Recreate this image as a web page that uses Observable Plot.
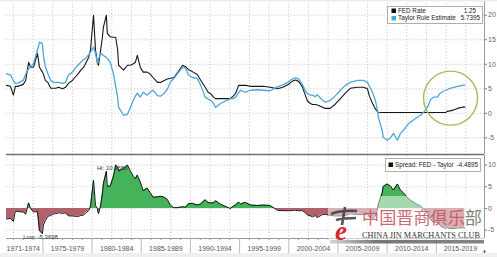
<!DOCTYPE html>
<html><head><meta charset="utf-8">
<script src="https://cdn.jsdelivr.net/npm/d3@7"></script>
<script src="https://cdn.jsdelivr.net/npm/@observablehq/plot@0.6"></script>
<style>
html,body{margin:0;padding:0;background:#fff;}
#chart{position:relative;width:497px;height:257px;overflow:hidden;background:#fff;}
#chart svg{position:absolute;left:0;}
</style></head><body><div id="chart"></div>
<script>
const years = [1971.3,1971.7,1972.0,1972.2,1972.5,1973.0,1973.25,1973.55,1973.75,1974.05,1974.45,1974.65,1974.95,1975.05,1975.25,1975.5,1975.8,1976.1,1976.3,1976.6,1977.0,1977.3,1977.6,1978.0,1978.3,1978.6,1978.85,1979.15,1979.35,1979.65,1979.85,1979.95,1980.15,1980.35,1980.55,1980.65,1980.85,1981.05,1981.15,1981.45,1981.55,1981.85,1982.1,1982.2,1982.4,1982.6,1982.7,1982.9,1983.2,1983.6,1983.9,1984.2,1984.4,1984.6,1984.9,1985.2,1985.6,1985.9,1986.2,1986.65,1986.95,1987.25,1987.65,1987.95,1988.3,1988.7,1989.2,1989.5,1989.8,1990.2,1990.7,1991.0,1991.5,1991.8,1992.05,1992.35,1992.55,1992.75,1993.05,1993.75,1994.05,1994.35,1994.6,1994.9,1995.1,1995.4,1995.6,1996.1,1996.8,1997.4,1998.1,1998.85,1999.4,2000.0,2000.2,2000.5,2000.7,2001.0,2001.4,2001.7,2001.9,2002.2,2002.4,2002.7,2002.9,2003.4,2003.7,2004.2,2004.7,2005.25,2005.75,2006.25,2007.0,2007.6,2008.0,2008.2,2008.5,2008.8,2009.0,2009.1,2009.5,2009.6,2010.0,2010.3,2010.65,2011.05,2011.35,2011.65,2012.05,2012.35,2012.65,2013.05,2013.4,2013.7,2014.1,2014.4,2014.7,2015.1,2015.4,2015.7,2015.95,2016.1,2016.4,2016.8,2017.15,2017.65,2017.9];
const fedRate = [5.7,5.5,3.7,5.5,5.5,5.9,6.7,10.4,9.4,9.4,12.2,9.4,8.4,8.0,6.7,6.3,5.1,5.1,5.1,5.3,5.0,5.3,6.1,6.7,7.4,8.1,8.8,9.4,10.2,11.4,13.0,15.5,20.0,12.9,10.2,9.8,12.6,15.5,17.5,20.0,16.3,15.6,15.5,15.5,15.5,12.9,9.8,9.4,8.8,9.8,9.8,10.1,10.4,11.8,9.4,8.4,8.4,8.0,7.3,6.3,6.3,6.6,7.0,7.1,7.3,8.3,9.8,9.5,8.9,8.5,7.9,6.9,5.3,4.3,4.0,3.3,3.0,3.0,3.0,3.0,3.0,3.5,4.1,5.7,5.7,5.7,5.7,5.5,5.5,5.5,5.3,5.0,5.3,5.9,6.3,6.7,6.8,6.5,5.3,3.6,2.5,2.0,1.8,1.8,1.7,1.3,1.0,1.0,1.8,3.0,4.1,5.1,5.3,5.3,5.0,3.5,2.1,0.9,0.4,0.2,0.15,0.15,0.15,0.15,0.15,0.15,0.15,0.15,0.15,0.15,0.15,0.15,0.15,0.15,0.15,0.15,0.15,0.15,0.15,0.15,0.15,0.4,0.5,0.7,1.0,1.25,1.25];
const taylorRule = [8.1,7.8,6.7,6.1,6.2,6.7,8.0,9.1,9.4,10.2,12.9,14.5,14.2,11.8,9.5,8.1,6.7,6.3,6.3,6.3,6.1,6.3,7.8,8.4,9.2,9.9,10.4,10.9,11.2,11.9,12.5,12.8,13.5,12.2,10.2,11.0,12.2,12.0,11.8,11.4,11.2,10.4,8.6,7.8,5.5,3.3,1.2,0.6,-0.4,-0.2,1.2,2.7,3.5,4.1,3.3,4.3,3.7,4.3,4.7,3.6,3.5,3.9,4.9,6.3,7.1,8.1,9.4,9.2,7.8,7.3,7.1,5.9,3.3,2.9,2.7,2.0,1.2,1.5,2.0,2.7,3.0,3.0,3.3,4.2,4.7,4.4,4.3,4.7,4.8,4.7,4.6,5.4,5.8,6.4,6.8,7.1,7.2,7.0,5.8,4.6,4.0,3.7,3.7,3.4,3.8,2.7,2.3,2.6,3.5,4.7,5.7,6.3,6.7,6.7,6.3,5.5,4.3,2.7,0.8,-0.8,-3.5,-4.9,-5.5,-5.1,-4.1,-5.5,-4.1,-3.5,-2.4,-1.8,-1.4,-0.8,-0.4,0.2,1.2,2.7,3.3,3.3,4.1,4.5,4.7,4.8,5.1,5.3,5.5,5.7,5.74];
const periodLabels = ["1971-1974","1975-1979","1980-1984","1985-1989","1990-1994","1995-1999","2000-2004","2005-2009","2010-2014","2015-2019"];
const periodStarts = [1971,1975,1980,1985,1990,1995,2000,2005,2010,2015];
const periodEnds = [1975,1980,1985,1990,1995,2000,2005,2010,2015,2020];
const topTicks = [-5,0,5,10,15,20];
const bottomTicks = [-5,0,5,10];
const legendTop = [["FED Rate","1.25"],["Taylor Rule Estimate","5.7395"]];
const legendBottom = ["Spread: FED - Taylor","-4.4895"];
const hiLabel = "Hi: 10.3680";
const lowLabel = "Low: -5.3698";

const rows = years.map((t,i)=>({t, fed: fedRate[i], taylor: taylorRule[i], spread: fedRate[i]-taylorRule[i]}));
const xDom = [1971.3, 2019.9];
const evenYears = d3.range(1972, 2019, 2);
const allYears = d3.range(1972, 2020, 1);
const mids = periodStarts.map((s,i)=> (s + Math.min(periodEnds[i], 2019.9)) / 2 );
const style = {fontFamily:"'Liberation Sans', Arial, sans-serif", fontSize:"7px", color:"#555", background:"transparent"};
const grid = {stroke:"#c4c4c4", strokeDasharray:"1.2,2", strokeWidth:0.9};

const topPlot = Plot.plot({
  width:497, height:155, marginLeft:6, marginRight:13, marginTop:0, marginBottom:1,
  x:{domain:xDom, axis:null},
  y:{domain:[-8.4,23], axis:null},
  style,
  marks:[
    Plot.ruleX(evenYears, grid),
    Plot.ruleY(topTicks, grid),
    Plot.line(rows,{x:"t", y:"fed", stroke:"#161616", strokeWidth:1.1}),
    Plot.line(rows,{x:"t", y:"taylor", stroke:"#4da6db", strokeWidth:1.3}),
    Plot.dot([{t:2016.45, v:3.1}],{x:"t", y:"v", r:27, stroke:"#a2bd5c", strokeWidth:1.4, fill:"none"}),
    Plot.ruleX([xDom[1]],{stroke:"#9a9a9a"}),
    Plot.axisY(topTicks,{anchor:"right", tickSize:2, tickPadding:1.5, tickFormat:d=>String(d), label:null, stroke:"#777", fill:"#666"})
  ]
});
topPlot.style.top = "0px";

const bottomPlot = Plot.plot({
  width:497, height:102, marginLeft:6, marginRight:13, marginTop:0, marginBottom:19,
  x:{domain:xDom, axis:null},
  y:{domain:[-6.9,12.2], axis:null},
  style,
  marks:[
    Plot.ruleX(evenYears, grid),
    Plot.ruleY(bottomTicks, grid),
    Plot.areaY(rows,{x:"t", y1:0, y2:"spread", fill:"#45b35a"}),
    Plot.areaY(rows,{x:"t", y1:0, y2:"spread", fill:"#b2616a"}),
    Plot.line(rows,{x:"t", y:"spread", stroke:"#111", strokeWidth:1}),
    Plot.ruleY([-6.9],{stroke:"#999"}),
    Plot.axisX(allYears,{tickSize:2, tickFormat:()=>"", stroke:"#999"}),
    Plot.axisX(periodStarts.slice(1),{tickSize:15, tickFormat:()=>"", stroke:"#bdbdbd"}),
    Plot.axisX(mids,{tickSize:0, tickPadding:8, tickFormat:(d,i)=>periodLabels[i], fill:"#555"}),
    Plot.ruleX([xDom[1]],{stroke:"#9a9a9a"}),
    Plot.axisY(bottomTicks,{anchor:"right", tickSize:2, tickPadding:1.5, tickFormat:d=>String(d), label:null, stroke:"#777", fill:"#666"}),
    Plot.text([{t:1980.5, v:9.3, s:hiLabel}],{x:"t", y:"v", text:"s", textAnchor:"start", fontSize:6, fill:"#333"}),
    Plot.text([{t:1973.0, v:-6.5, s:lowLabel}],{x:"t", y:"v", text:"s", textAnchor:"start", fontSize:6, fill:"#333"})
  ]
});
bottomPlot.style.top = "155px";
{
  const y0 = bottomPlot.scale("y").apply(0);
  const ns = "http://www.w3.org/2000/svg";
  const defs = document.createElementNS(ns,"defs");
  defs.innerHTML = `<clipPath id="cpPos"><rect x="0" y="-5" width="497" height="${y0+5}"/></clipPath><clipPath id="cpNeg"><rect x="0" y="${y0}" width="497" height="${102-y0}"/></clipPath>`;
  bottomPlot.insertBefore(defs, bottomPlot.firstChild);
  const areas = bottomPlot.querySelectorAll('g[aria-label="area"]');
  areas[0].setAttribute("clip-path","url(#cpPos)");
  areas[1].setAttribute("clip-path","url(#cpNeg)");
}

const chart = document.getElementById("chart");
chart.appendChild(topPlot);
chart.appendChild(bottomPlot);

const ov = document.createElementNS("http://www.w3.org/2000/svg","svg");
ov.setAttribute("width",497); ov.setAttribute("height",257);
ov.style.top="0px";
ov.innerHTML = `
<defs><linearGradient id="sh" x1="0" x2="1"><stop offset="0" stop-color="#ccc"/><stop offset="0.3" stop-color="#555"/><stop offset="1" stop-color="#666"/></linearGradient></defs>
<rect x="0" y="0" width="497" height="1.5" fill="#ececec"/>
<line x1="6" x2="484" y1="154.5" y2="154.5" stroke="#707070" stroke-width="1.6"/>
<rect x="0" y="253" width="497" height="4" fill="#efefef"/>
<g font-family="'Liberation Sans', Arial, sans-serif" font-size="6.3" fill="#222">
 <rect x="387.5" y="6.5" width="95" height="17" fill="#fff" stroke="#9c9c9c" stroke-width="0.8"/>
 <rect x="391.5" y="8.5" width="4.5" height="4.5" fill="#111"/>
 <rect x="391.5" y="16" width="4.5" height="4.5" fill="#4da6db"/>
 <text x="398" y="12.8">${legendTop[0][0]}</text><text x="476" y="12.8" text-anchor="end">${legendTop[0][1]}</text>
 <text x="398" y="20.3">${legendTop[1][0]}</text><text x="480" y="20.3" text-anchor="end">${legendTop[1][1]}</text>
 <rect x="385.5" y="158.5" width="95" height="13" fill="#fff" stroke="#9c9c9c" stroke-width="0.8"/>
 <rect x="388.5" y="162.5" width="4.5" height="4.5" fill="#111"/>
 <text x="395" y="167.3">${legendBottom[0]}</text><text x="478" y="167.3" text-anchor="end">${legendBottom[1]}</text>
</g>
<rect x="328" y="196" width="156" height="46" fill="#fff" opacity="0.5"/>
<path d="M331 214 q10 -4 26 -3 M336 220 q8 -2 20 -2 M345 207 l-3 18" stroke="#3a3a3a" stroke-width="2.6" fill="none" opacity="0.85"/>
<text x="335" y="240" font-family="'Liberation Serif', serif" font-style="italic" font-weight="bold" font-size="27" fill="#d8282c">e</text>
<text x="362" y="224" font-family="'Noto Sans CJK SC', sans-serif" font-size="16.5" textLength="120" lengthAdjust="spacingAndGlyphs" fill="#c4525a" opacity="0.85">中国晋商俱乐<tspan fill="#6a6a6a">部</tspan></text>
<text x="362" y="237.5" font-family="'Liberation Serif', serif" font-size="8.2" textLength="118" lengthAdjust="spacingAndGlyphs" fill="#333">CHINA JIN MARCHANTS CLUB</text>
<rect x="330" y="240" width="154" height="3.5" fill="url(#sh)" opacity="0.8"/>
`;
chart.appendChild(ov);
</script></body></html>
